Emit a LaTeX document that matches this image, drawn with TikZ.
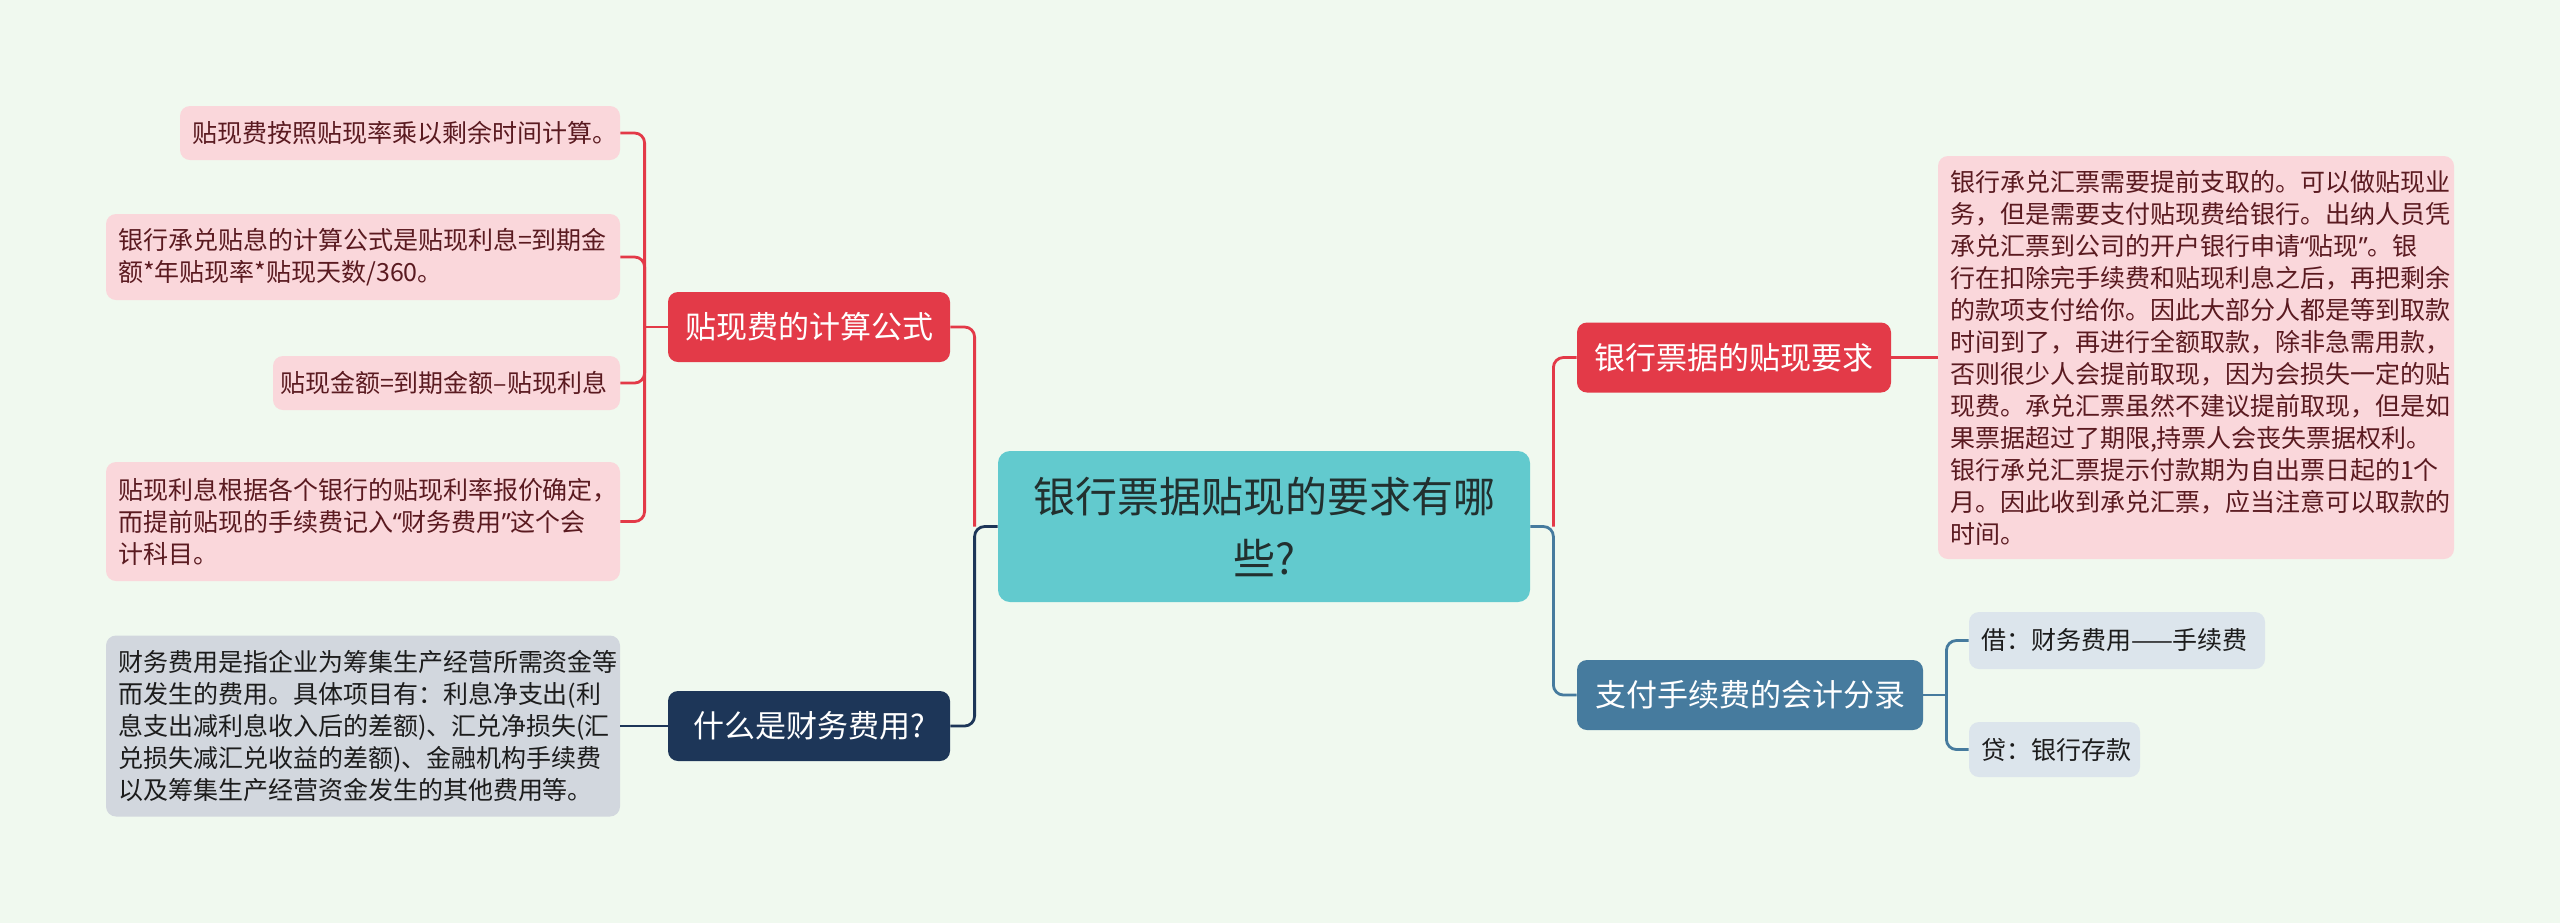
\documentclass[tikz,border=0pt]{standalone}
\usepackage{fontspec}
\setmainfont{Noto Sans CJK SC}
\newfontfamily\quotefont{Noto Sans}
\newcommand{\qopen}{{\quotefont “}}
\newcommand{\qclose}{{\quotefont ”}}
\usepackage{xcolor}
\usetikzlibrary{calc}
\definecolor{bgmint}{HTML}{F0F9EF}
\definecolor{qteal}{HTML}{62CACE}
\definecolor{qtext}{HTML}{22302F}
\definecolor{topicred}{HTML}{E33A48}
\definecolor{topicnavy}{HTML}{1D3658}
\definecolor{topicsteel}{HTML}{467B9E}
\definecolor{leafpink}{HTML}{FAD7DB}
\definecolor{leafgray}{HTML}{D2D7DE}
\definecolor{leafblue}{HTML}{DCE5EC}
\definecolor{pinkink}{HTML}{5A1A20}
\definecolor{darkink}{HTML}{1C1C1C}

\begin{document}
\begin{tikzpicture}[x=0.5pt,y=-0.5pt,
  mainq/.style={rectangle,rounded corners=6pt,fill=qteal,text=qtext,
    font=\fontsize{21}{31}\selectfont,align=center,
    minimum width=266pt,minimum height=75.5pt,inner sep=0pt},
  topicbox/.style={rectangle,rounded corners=5pt,text=white,
    font=\fontsize{15.5}{20}\selectfont,minimum height=35pt,inner sep=0pt},
  leafbox/.style={rectangle,rounded corners=5pt,
    font=\fontsize{12.5}{16}\selectfont,align=left,inner xsep=6pt,inner ysep=0pt},
  pinkleaf/.style={leafbox,fill=leafpink,text=pinkink},
  grayleaf/.style={leafbox,fill=leafgray,text=darkink},
  blueleaf/.style={leafbox,fill=leafblue,text=darkink},
  redlink/.style={draw=topicred,line width=1.4pt,rounded corners=5pt},
  navylink/.style={draw=topicnavy,line width=1.4pt,rounded corners=5pt},
  steellink/.style={draw=topicsteel,line width=1.4pt,rounded corners=5pt}]

  %% ---- background ----
  \fill[bgmint] (0,0) rectangle (2560,923);

  %% ---- central question ----
  \node[mainq] (qmain) at (1264,526.5) {银行票据贴现的要求有哪\\些?};

  %% ---- topics ----
  \node[topicbox,fill=topicred,minimum width=141pt] (calc) at (809,327) {贴现费的计算公式};
  \node[topicbox,fill=topicnavy,minimum width=141pt] (whatfee) at (809,726) {什么是财务费用?};
  \node[topicbox,fill=topicred,minimum width=157pt] (reqs) at (1734,357.5) {银行票据的贴现要求};
  \node[topicbox,fill=topicsteel,minimum width=173pt] (entry) at (1750,695) {支付手续费的会计分录};

  %% ---- leaves: calculation ----
  \node[pinkleaf,text width=208pt,minimum height=27pt] (la) at (400,133)
    {贴现费按照贴现率乘以剩余时间计算。};
  \node[pinkleaf,text width=245pt,minimum height=43pt] (lb) at (363,257)
    {银行承兑贴息的计算公式是贴现利息=到期金\\额*年贴现率*贴现天数/360。};
  \node[pinkleaf,inner xsep=3.5pt,text width=166.5pt,minimum height=27pt] (lc) at (446.5,383)
    {贴现金额=到期金额–贴现利息};
  \node[pinkleaf,text width=245pt,minimum height=59.5pt] (ld) at (363,521.5)
    {贴现利息根据各个银行的贴现利率报价确定，\\而提前贴现的手续费记入\qopen 财务费用\qclose 这个会\\计科目。};

  %% ---- leaf: finance cost ----
  \node[grayleaf,text width=245pt,minimum height=90.5pt] (gfee) at (363,726)
    {财务费用是指企业为筹集生产经营所需资金等\\而发生的费用。具体项目有：利息净支出(利\\息支出减利息收入后的差额)、汇兑净损失(汇\\兑损失减汇兑收益的差额)、金融机构手续费\\以及筹集生产经营资金发生的其他费用等。};

  %% ---- leaf: requirements ----
  \node[pinkleaf,text width=246pt,minimum height=201.5pt] (rlong) at (2196,357.5)
    {银行承兑汇票需要提前支取的。可以做贴现业\\务，但是需要支付贴现费给银行。出纳人员凭\\承兑汇票到公司的开户银行申请\qopen 贴现\qclose 。银\\行在扣除完手续费和贴现利息之后，再把剩余\\的款项支付给你。因此大部分人都是等到取款\\时间到了，再进行全额取款，除非急需用款，\\否则很少人会提前取现，因为会损失一定的贴\\现费。承兑汇票虽然不建议提前取现，但是如\\果票据超过了期限,持票人会丧失票据权利。\\银行承兑汇票提示付款期为自出票日起的1个\\月。因此收到承兑汇票，应当注意可以取款的\\时间。};

  %% ---- leaves: entries ----
  \node[blueleaf,text width=136pt,minimum height=28.5pt] (debit) at (2117,640.5)
    {借：财务费用——手续费};
  \node[blueleaf,text width=73.5pt,minimum height=27.5pt] (credit) at (2054.5,749.5)
    {贷：银行存款};

  %% ---- connectors ----
  \coordinate (ljoin) at ($(qmain.west)+(-23,0)$);
  \coordinate (rjoin) at ($(qmain.east)+(23,0)$);
  \coordinate (cjoin) at ($(calc.west)+(-23,0)$);
  \coordinate (ejoin) at ($(entry.east)+(23,0)$);

  \draw[navylink] (qmain.west) -- (ljoin) |- (whatfee.east);
  \draw[redlink] (ljoin) |- (calc.east);
  \draw[steellink] (qmain.east) -- (rjoin) |- (entry.west);
  \draw[redlink] (rjoin) |- (reqs.west);

  \draw[redlink] (calc.west) -- (cjoin);
  \foreach \leaf in {la,lb,lc,ld}
    \draw[redlink] (cjoin) |- (\leaf.east);
  \draw[navylink] (whatfee.west) -- (gfee.east);
  \draw[redlink] (reqs.east) -- (rlong.west);
  \draw[steellink] (entry.east) -- (ejoin);
  \foreach \leaf in {debit,credit}
    \draw[steellink] (ejoin) |- (\leaf.west);
\end{tikzpicture}
\end{document}
